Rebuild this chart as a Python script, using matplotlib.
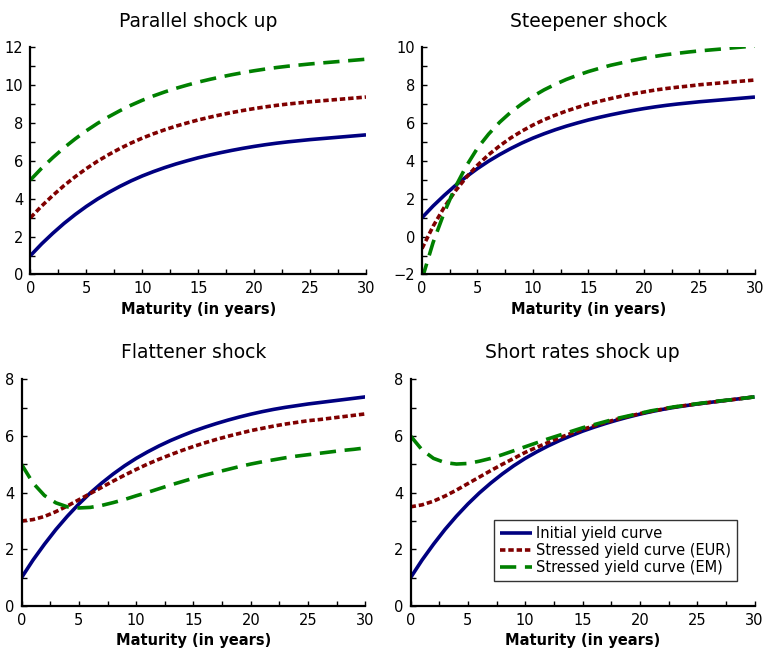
import matplotlib
matplotlib.use("Agg")
import matplotlib.pyplot as plt
from matplotlib.ticker import MultipleLocator

plt.rcParams['font.family'] = ['DejaVu Sans']

maturity = list(range(0, 31))

initial = [1.00, 1.62, 2.18, 2.70, 3.17, 3.60, 3.99, 4.34, 4.66, 4.95, 5.21, 5.44, 5.65, 5.84, 6.01,
           6.17, 6.31, 6.44, 6.56, 6.67, 6.77, 6.86, 6.94, 7.01, 7.07, 7.13, 7.18, 7.23, 7.28, 7.33, 7.38]

parallel_eur = [3.00, 3.62, 4.18, 4.70, 5.17, 5.60, 5.99, 6.34, 6.66, 6.95, 7.21, 7.44, 7.65, 7.84, 8.01,
                8.17, 8.31, 8.44, 8.56, 8.67, 8.77, 8.86, 8.94, 9.01, 9.07, 9.13, 9.18, 9.23, 9.28, 9.33, 9.38]
parallel_em = [5.00, 5.62, 6.18, 6.70, 7.17, 7.60, 7.99, 8.34, 8.66, 8.95, 9.21, 9.44, 9.65, 9.84, 10.01,
               10.17, 10.31, 10.44, 10.56, 10.67, 10.77, 10.86, 10.94, 11.01, 11.07, 11.13, 11.18, 11.23, 11.28, 11.33, 11.38]

steepener_eur = [-0.63, 0.55, 1.55, 2.41, 3.14, 3.78, 4.33, 4.80, 5.22, 5.58, 5.90, 6.18, 6.42, 6.64, 6.83,
                 7.01, 7.16, 7.30, 7.43, 7.55, 7.65, 7.75, 7.83, 7.90, 7.96, 8.03, 8.08, 8.13, 8.18, 8.23, 8.28]
steepener_em = [-2.25, -0.31, 1.27, 2.62, 3.74, 4.68, 5.42, 6.05, 6.58, 7.02, 7.42, 7.76, 8.05, 8.31, 8.53,
                8.73, 8.90, 9.06, 9.19, 9.32, 9.43, 9.53, 9.62, 9.69, 9.76, 9.82, 9.87, 9.92, 9.98, 10.03, 10.08]

flattener_eur = [3.00, 3.05, 3.16, 3.33, 3.53, 3.75, 3.97, 4.19, 4.41, 4.62, 4.82, 5.01, 5.18, 5.34, 5.49,
                 5.63, 5.76, 5.88, 5.99, 6.09, 6.19, 6.27, 6.35, 6.42, 6.48, 6.54, 6.58, 6.63, 6.68, 6.73, 6.78]
flattener_em = [5.00, 4.34, 3.90, 3.64, 3.50, 3.46, 3.48, 3.55, 3.65, 3.76, 3.89, 4.01, 4.14, 4.27, 4.39,
                4.51, 4.62, 4.72, 4.82, 4.92, 5.01, 5.09, 5.16, 5.23, 5.29, 5.34, 5.39, 5.44, 5.49, 5.53, 5.58]

short_eur = [3.50, 3.57, 3.70, 3.88, 4.09, 4.32, 4.55, 4.78, 5.00, 5.21, 5.42, 5.60, 5.77, 5.94, 6.09,
             6.23, 6.36, 6.48, 6.59, 6.69, 6.79, 6.87, 6.95, 7.02, 7.08, 7.13, 7.18, 7.23, 7.28, 7.33, 7.38]
short_em = [6.00, 5.51, 5.21, 5.06, 5.01, 5.03, 5.11, 5.21, 5.34, 5.48, 5.62, 5.76, 5.90, 6.03, 6.16,
            6.29, 6.40, 6.51, 6.62, 6.71, 6.80, 6.89, 6.96, 7.03, 7.08, 7.14, 7.19, 7.24, 7.28, 7.33, 7.38]

titles = ["Parallel shock up", "Steepener shock", "Flattener shock", "Short rates shock up"]
legend_labels = ["Initial yield curve", "Stressed yield curve (EUR)", "Stressed yield curve (EM)"]
xlabel = "Maturity (in years)"

panels = [
    (parallel_eur, parallel_em, (0, 12), [0.0398, 0.5803, 0.438, 0.3471]),
    (steepener_eur, steepener_em, (-2, 10), [0.5509, 0.5803, 0.4347, 0.3471]),
    (flattener_eur, flattener_em, (0, 8), [0.0281, 0.0734, 0.449, 0.3466]),
    (short_eur, short_em, (0, 8), [0.5360, 0.0734, 0.449, 0.3466]),
]

c_blue = "#000080"
c_red = "#800000"
c_green = "#008000"

fig = plt.figure(figsize=(7.66, 6.54), dpi=100)

for i, (eur, em, ylim, pos) in enumerate(panels):
    ax = fig.add_axes(pos)
    l1, = ax.plot(maturity, initial, color=c_blue, lw=2.6, solid_capstyle='butt')
    l2, = ax.plot(maturity, eur, color=c_red, lw=2.6, linestyle=(0, (1.5, 0.8)))
    l3, = ax.plot(maturity, em, color=c_green, lw=2.6, linestyle=(0, (4.5, 2.4)))
    ax.set_xlim(0, 30)
    ax.set_ylim(*ylim)
    ax.xaxis.set_major_locator(MultipleLocator(5))
    ax.xaxis.set_minor_locator(MultipleLocator(2.5))
    ax.yaxis.set_major_locator(MultipleLocator(2))
    ax.yaxis.set_minor_locator(MultipleLocator(1))
    for s in ['top', 'right']:
        ax.spines[s].set_visible(False)
    for s in ['left', 'bottom']:
        ax.spines[s].set_linewidth(1.6)
        ax.spines[s].set_color('black')
    ax.tick_params(which='both', direction='in', length=3.5, width=1, labelsize=10.5, pad=5)
    ax.set_title(titles[i], fontsize=13.5, pad=15)
    ax.set_xlabel(xlabel, fontsize=10.5, fontweight='bold', labelpad=4)
    if i == 3:
        leg = ax.legend([l1, l2, l3], legend_labels, loc='lower left',
                        bbox_to_anchor=(0.243, 0.11), fontsize=10.5, frameon=True,
                        fancybox=False, edgecolor='black', handlelength=2.2,
                        handletextpad=0.3, borderpad=0.4, labelspacing=0.15,
                        borderaxespad=0)
        leg.get_frame().set_linewidth(1.0)

fig.savefig("out.png", dpi=100)
